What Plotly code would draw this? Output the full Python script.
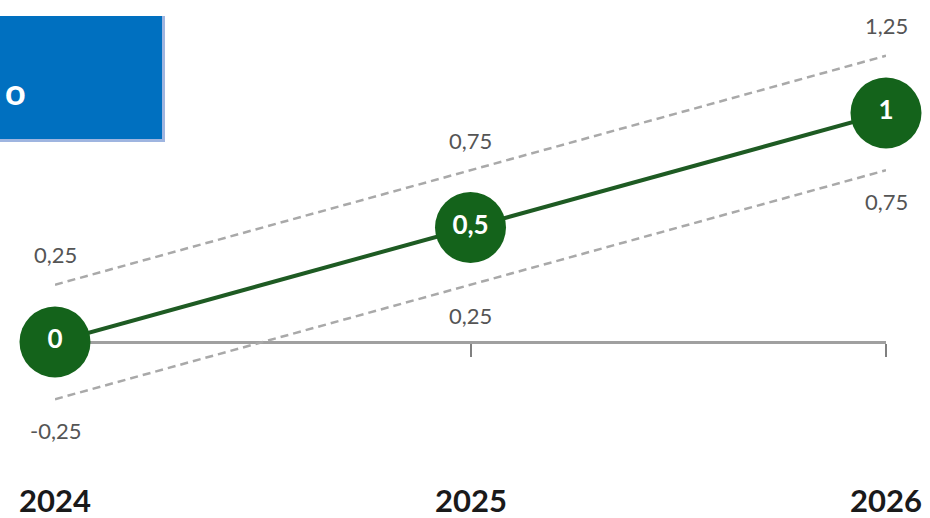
import plotly.graph_objects as go

# Projected path with an upper and lower band (values use decimal commas)
years = [2024, 2025, 2026]
central = [0, 0.5, 1]
upper = [0.25, 0.75, 1.25]
lower = [-0.25, 0.25, 0.75]
year_labels = ["2024", "2025", "2026"]
box_text = "o"

GREEN_LINE = "#1E5B23"
GREEN_DOT = "#14631B"
DASH_GREY = "#A9A9A9"
LABEL_GREY = "#555555"


def fmt(v):
    return f"{v:g}".replace(".", ",")


fig = go.Figure()

# Band limits
for band in (upper, lower):
    fig.add_trace(go.Scatter(
        x=years, y=band, mode="lines",
        line=dict(color=DASH_GREY, width=2.5, dash="8px,5px"),
        hoverinfo="skip", showlegend=False, cliponaxis=False,
    ))

# Central path with value bubbles
fig.add_trace(go.Scatter(
    x=years, y=central, mode="lines",
    line=dict(color=GREEN_LINE, width=4),
    hoverinfo="skip", showlegend=False, cliponaxis=False,
))
fig.add_trace(go.Scatter(
    x=years, y=central, mode="markers+text",
    marker=dict(size=71, color=GREEN_DOT, line=dict(width=0)),
    text=[fmt(v) for v in central], textposition="middle center",
    textfont=dict(family="Lato", size=26, color="white", weight="bold"),
    hoverinfo="skip", showlegend=False, cliponaxis=False,
))

annotations = []
for x, v in zip(years, upper):
    annotations.append(dict(x=x, y=v, xref="x", yref="y", text=fmt(v),
                            showarrow=False, yshift=30, yanchor="middle",
                            font=dict(family="Lato", size=22, color=LABEL_GREY)))
for x, v in zip(years, lower):
    annotations.append(dict(x=x, y=v, xref="x", yref="y", text=fmt(v),
                            showarrow=False, yshift=-31, yanchor="middle",
                            font=dict(family="Lato", size=22, color=LABEL_GREY)))
for x, lab in zip(years, year_labels):
    annotations.append(dict(x=x, y=1 - 500 / 518, xref="x", yref="paper",
                            text=lab, showarrow=False, yanchor="middle",
                            font=dict(family="Lato", size=31, color="#1A1A1A",
                                      weight="bold")))
annotations.append(dict(x=3 / 930, y=1 - 91 / 518, xref="paper", yref="paper",
                        text=box_text, showarrow=False, xanchor="left",
                        yanchor="middle",
                        font=dict(family="Lato", size=36, color="white",
                                  weight="bold")))

W, H = 930, 518
y_lo, y_hi = -0.7686, 1.4934
axis_pos = (0 - y_lo) / (y_hi - y_lo)

fig.update_layout(
    width=W, height=H,
    margin=dict(l=0, r=0, t=0, b=0),
    paper_bgcolor="white", plot_bgcolor="white",
    annotations=annotations,
    shapes=[
        dict(type="rect", xref="paper", yref="paper",
             x0=0, x1=165 / W, y0=1 - 142 / H, y1=1 - 16 / H,
             fillcolor="#9FB5E0", line=dict(width=0), layer="above"),
        dict(type="rect", xref="paper", yref="paper",
             x0=0, x1=162 / W, y0=1 - 139 / H, y1=1 - 16 / H,
             fillcolor="#0070C0", line=dict(width=0), layer="above"),
    ],
    xaxis=dict(
        domain=[55 / W, 886 / W], range=[2024, 2026],
        anchor="free", position=axis_pos,
        showline=True, linecolor="#A0A0A0", linewidth=3,
        ticks="outside", ticklen=13, tickwidth=2, tickcolor="#808080",
        tickvals=years, showticklabels=False,
        showgrid=False, zeroline=False, layer="below traces",
    ),
    yaxis=dict(range=[y_lo, y_hi], visible=False, showgrid=False,
               zeroline=False),
)

fig.write_html("out.html")
